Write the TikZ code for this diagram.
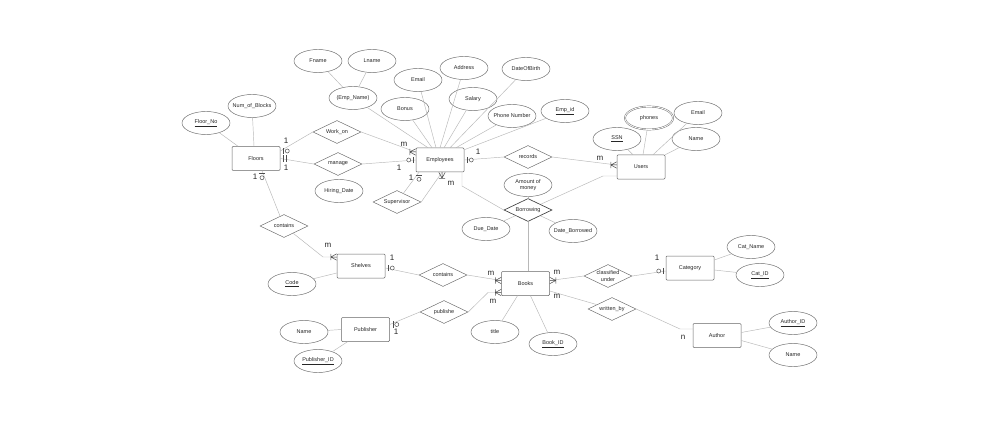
\documentclass[tikz,border=0pt]{standalone}
\usepackage{fontspec}
\setmainfont{Liberation Sans}
\usetikzlibrary{shapes.geometric}
\newcommand{\ct}[1]{\makebox[0pt]{#1}}
\begin{document}
\begin{tikzpicture}[x=1pt,y=-1pt,
  every node/.style={font=\fontsize{5.5}{6.5}\selectfont, text=black!85},
  ent/.style={draw=black!60, line width=0.5pt, rounded corners=1pt, minimum width=48pt, minimum height=24pt, inner sep=0pt, fill=white},
  attr/.style={ellipse, draw=black!60, line width=0.45pt, minimum width=48pt, minimum height=23pt, inner sep=0pt, fill=white},
  mattr/.style={attr, double, double distance=0.8pt},
  rel/.style={diamond, draw=black!60, line width=0.45pt, minimum width=48pt, minimum height=23pt, inner sep=0pt, fill=white},
  wrel/.style={rel, draw=black!75, line width=0.65pt},
  con/.style={draw=black!28, line width=0.45pt},
  mk/.style={draw=black!70, line width=0.5pt},
  card/.style={font=\fontsize{8}{8}\selectfont, text=black!85, inner sep=0pt},
  onemany/.pic={\draw[mk] (-6,-3.2)--(-6,3.2) (-6,0)--(0,-3.2) (-6,0)--(0,3.2) (-6,0)--(0,0);},
  zone/.pic={\draw[mk] (-3,-3.2)--(-3,3.2); \draw[mk,fill=white] (-7,0) circle (2pt);},
  oneone/.pic={\draw[mk] (-3,-3.2)--(-3,3.2) (-6,-3.2)--(-6,3.2);},
]
\useasboundingbox[fill=white] (0,0) rectangle (1000,422);

% ---------------- entities
\node[ent] (floors) at (256,158.5) {Floors};
\node[ent] (emp) at (440,160) {Employees};
\node[ent] (users) at (641,167) {Users};
\node[ent] (shelves) at (361,266) {Shelves};
\node[ent] (books) at (525.5,283.5) {Books};
\node[ent] (cat) at (690,268) {Category};
\node[ent] (author) at (717,335.5) {Author};
\node[ent] (pub) at (365.5,329.5) {Publisher};

% ---------------- attributes
\node[attr] (floorno) at (206,123) {\ct{\underline{Floor\_No}}};
\node[attr] (numblocks) at (252,106) {\ct{Num\_of\_Blocks}};
\node[attr] (fname) at (318,61) {\ct{Fname}};
\node[attr] (lname) at (372,61) {\ct{Lname}};
\node[attr] (empname) at (353,98) {\ct{(Emp\_Name)}};
\node[attr] (bonus) at (405,109) {\ct{Bonus}};
\node[attr] (eemail) at (418,80) {\ct{Email}};
\node[attr] (address) at (464,68) {\ct{Address}};
\node[attr] (salary) at (473,99) {\ct{Salary}};
\node[attr] (dob) at (526,69) {\ct{DateOfBirth}};
\node[attr] (phone) at (512,116) {\ct{Phone Number}};
\node[attr] (empid) at (565,111) {\ct{\underline{Emp\_id}}};
\node[mattr] (phones) at (649,118) {\ct{phones}};
\node[attr] (uemail) at (698,113) {\ct{Email}};
\node[attr] (ssn) at (617,139) {\ct{\underline{SSN}}};
\node[attr] (uname) at (696,139) {\ct{Name}};
\node[attr] (amount) at (528,185) {\ct{\shortstack{Amount of\\money}}};
\node[attr] (duedate) at (486,229) {\ct{Due\_Date}};
\node[attr] (dateb) at (573,231) {\ct{Date\_Borrowed}};
\node[attr] (hiring) at (339,191) {\ct{Hiring\_Date}};
\node[attr] (code) at (292,284) {\ct{\underline{Code}}};
\node[attr] (title) at (495,332) {\ct{title}};
\node[attr] (bookid) at (553,344) {\ct{\underline{Book\_ID}}};
\node[attr] (pname) at (304,332) {\ct{Name}};
\node[attr] (pubid) at (318,361) {\ct{\underline{Publisher\_ID}}};
\node[attr] (catname) at (751,247) {\ct{Cat\_Name}};
\node[attr] (catid) at (760,275) {\ct{\underline{Cat\_ID}}};
\node[attr] (authid) at (793,323) {\ct{\underline{Author\_ID}}};
\node[attr] (aname) at (793,355) {\ct{Name}};

% ---------------- relationships
\node[rel] (workon) at (337,132) {\ct{Work\_on}};
\node[rel] (manage) at (338,164) {\ct{manage}};
\node[rel] (super) at (397,202) {\ct{Supervisor}};
\node[rel] (records) at (528,157) {\ct{records}};
\node[wrel] (borrow) at (528,210) {\ct{Borrowing}};
\node[rel] (contf) at (284,226) {\ct{contains}};
\node[rel] (conts) at (443,275) {\ct{contains}};
\node[rel] (publ) at (444,312) {\ct{publishe}};
\node[rel] (classu) at (608,276) {\ct{\shortstack{classified\\under}}};
\node[rel] (writ) at (612,309) {\ct{written\_by}};

% ---------------- bend points
\coordinate (bEmpB) at (462,186);
\coordinate (bUsrB) at (603,176);
\coordinate (bShelf) at (323,257);
\coordinate (bPubl) at (488,292.5);
\coordinate (bAuth) at (680,329);

% ---------------- connectors
\draw[con] (floorno) -- ([xshift=-18]floors.north);
\draw[con] (numblocks) -- ([xshift=-2]floors.north);
\draw[con] (fname) -- (empname);
\draw[con] (lname) -- (empname);
\draw[con] (empname) -- ([xshift=-12]emp.north);
\draw[con] (bonus) -- ([xshift=-8]emp.north);
\draw[con] (eemail) -- ([xshift=-4]emp.north);
\draw[con] (address) -- ([xshift=0]emp.north);
\draw[con] (salary) -- ([xshift=4]emp.north);
\draw[con] (dob) -- ([xshift=10]emp.north);
\draw[con] (phone) -- ([xshift=16]emp.north);
\draw[con] (empid) -- ([yshift=-2]emp.north east);
\draw[con] (ssn) -- ([xshift=-8]users.north);
\draw[con] (phones) -- ([xshift=2]users.north);
\draw[con] (uemail) -- ([xshift=12]users.north);
\draw[con] (uname) -- (users.north east);

\draw[con] ([yshift=7.5]floors.east) -- (workon.west);
\draw[con] (workon.east) -- ([yshift=8]emp.west);
\draw[con] (floors.east) -- (manage.west);
\draw[con] (manage.east) -- (emp.west);
\draw[con] ([xshift=6]floors.south) -- (contf);
\draw[con] (contf) -- (bShelf) -- ([yshift=9]shelves.west);
\draw[con] ([xshift=-21]emp.south) -- (super);
\draw[con] (super.east) -- ([xshift=2]emp.south);
\draw[con] (emp.east) -- (records.west);
\draw[con] (records.east) -- ([yshift=2]users.west);
\draw[con] ([xshift=22]emp.south) -- (bEmpB) -- (borrow.west);
\draw[con] ([yshift=-9]users.west) -- (bUsrB) -- (borrow);
\draw[con] (amount) -- (borrow);
\draw[con] (duedate) -- (borrow);
\draw[con] (dateb) -- (borrow);
\draw[con] (borrow.south) -- ([xshift=2.5]books.north);
\draw[con] (code) -- ([yshift=-7]shelves.west);
\draw[con] ([yshift=-2]shelves.east) -- (conts.west);
\draw[con] (conts.east) -- ([yshift=3]books.west);
\draw[con] (publ.east) -- (bPubl) -- ([yshift=-9]books.west);
\draw[con] (publ.west) -- ([yshift=5]pub.east);
\draw[con] (pname) -- (pub.west);
\draw[con] (pubid) -- ([xshift=-18]pub.south);
\draw[con] ([xshift=-8]books.south) -- (title);
\draw[con] ([xshift=5]books.south) -- (bookid);
\draw[con] ([yshift=3]books.east) -- (classu.west);
\draw[con] (classu.east) -- ([yshift=-3]cat.west);
\draw[con] ([yshift=-7.5]books.east) -- (writ);
\draw[con] (writ.east) -- (bAuth) -- ([yshift=6.5]author.west);
\draw[con] ([yshift=8]cat.east) -- (catname);
\draw[con] ([yshift=-2]cat.east) -- (catid);
\draw[con] ([yshift=3]author.east) -- (authid);
\draw[con] ([yshift=-5]author.east) -- (aname);

% ---------------- markers
\path ([yshift=7.5]floors.east) pic[rotate=180] {zone};
\path (floors.east) pic[rotate=180] {oneone};
\path ([xshift=6]floors.south) pic[rotate=90] {zone};
\path ([yshift=8]emp.west) pic {onemany};
\path (emp.west) pic {zone};
\path ([xshift=-21]emp.south) pic[rotate=90] {zone};
\path ([xshift=2]emp.south) pic[rotate=90] {onemany};
\path (emp.east) pic[rotate=180] {zone};
\path ([yshift=2]users.west) pic {onemany};
\path ([yshift=9]shelves.west) pic {onemany};
\path ([yshift=-2]shelves.east) pic[rotate=180] {zone};
\path ([yshift=3]books.west) pic {onemany};
\path ([yshift=-9]books.west) pic {onemany};
\path ([yshift=3]books.east) pic[rotate=180] {onemany};
\path ([yshift=-3]cat.west) pic {zone};
\path ([yshift=5]pub.east) pic[rotate=180] {zone};

% ---------------- cardinalities
\node[card] (c1) at (286,141) {1};
\node[card] (c2) at (286,168) {1};
\node[card] (c3) at (255,177) {1};
\node[card] (c4) at (404,144) {m};
\node[card] (c5) at (399,168) {1};
\node[card] (c6) at (411,178) {1};
\node[card] (c7) at (451,183) {m};
\node[card] (c8) at (478,152) {1};
\node[card] (c9) at (600,158) {m};
\node[card] (c10) at (328,245) {m};
\node[card] (c11) at (392,258) {1};
\node[card] (c12) at (491,273) {m};
\node[card] (c13) at (493,301) {m};
\node[card] (c14) at (557,272) {m};
\node[card] (c15) at (557,296) {m};
\node[card] (c16) at (657,258) {1};
\node[card] (c17) at (683,337) {n};
\node[card] (c18) at (396,332) {1};
\end{tikzpicture}
\end{document}
